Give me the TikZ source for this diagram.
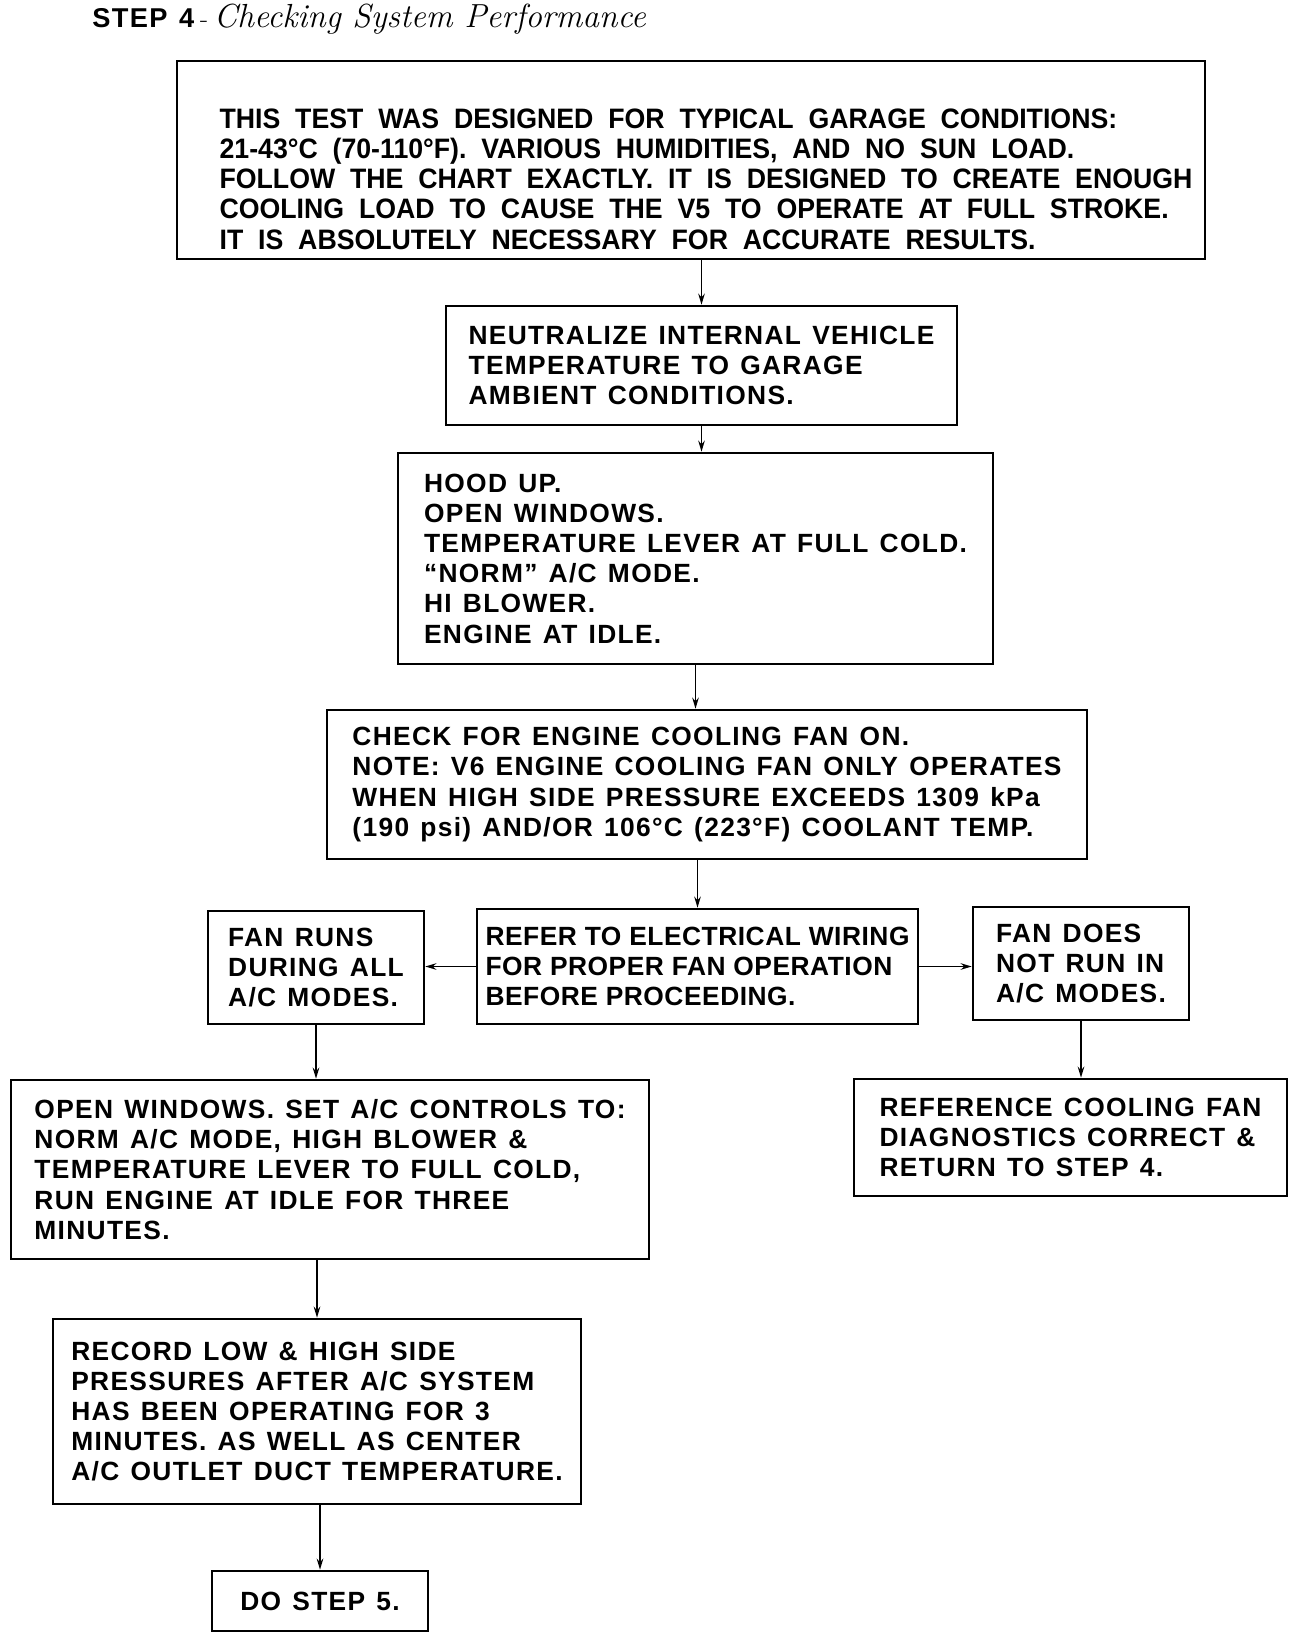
\documentclass[tikz,border=0pt]{standalone}
\usepackage{fontspec}
\usepackage{tikz}
\usetikzlibrary{arrows.meta,positioning,calc}
\newfontfamily\chartfont[LetterSpace=5, WordSpace=1.3]{Liberation Sans}
\newfontfamily\tightfont[LetterSpace=2, WordSpace=1.0]{Liberation Sans}
\newfontfamily\condfont[FakeStretch=0.95, WordSpace=2]{Liberation Sans}

\begin{document}
\begin{tikzpicture}[x=0.02cm, y=-0.02cm,
    stp/.style={draw, line width=1.5pt, align=left, inner sep=0pt,
        font=\chartfont\bfseries\fontsize{15}{17.2}\selectfont},
    txt/.style={align=left, inner sep=0pt, font=\condfont\bfseries\fontsize{16}{17.2}\selectfont},
    arr/.style={-{Stealth[length=0.22cm, width=0.13cm]}, line width=1.1pt}
]
\useasboundingbox (0,0) rectangle (1312,1638);

\node[anchor=base west, inner sep=0pt] (title) at (92,28)
    {{\chartfont\bfseries\fontsize{15.5}{18}\selectfont STEP 4} {\fontsize{15}{18}\selectfont -} {\fontsize{19}{20}\selectfont\itshape Checking System Performance}};

\node[stp, minimum width=20.56cm, minimum height=3.96cm] (intro) at (691,160) {};
\node[txt] (introtxt) at (706,179) {THIS TEST WAS DESIGNED FOR TYPICAL GARAGE CONDITIONS:\\
21-43°C (70-110°F). VARIOUS HUMIDITIES, AND NO SUN LOAD.\\
FOLLOW THE CHART EXACTLY. IT IS DESIGNED TO CREATE ENOUGH\\
COOLING LOAD TO CAUSE THE V5 TO OPERATE AT FULL STROKE.\\
IT IS ABSOLUTELY NECESSARY FOR ACCURATE RESULTS.};

\node[stp, minimum width=10.22cm, minimum height=2.38cm] (neutral) at (701.5,365.5)
    {NEUTRALIZE INTERNAL VEHICLE\\TEMPERATURE TO GARAGE\\AMBIENT CONDITIONS.};
\node[stp, minimum width=11.9cm, minimum height=4.22cm] (setup) at (695.5,558.5)
    {HOOD UP.\\OPEN WINDOWS.\\TEMPERATURE LEVER AT FULL COLD.\\“NORM” A/C MODE.\\HI BLOWER.\\ENGINE AT IDLE.};
\node[stp, minimum width=15.2cm, minimum height=2.98cm] (fancheck) at (707,784.5)
    {CHECK FOR ENGINE COOLING FAN ON.\\NOTE: V6 ENGINE COOLING FAN ONLY OPERATES\\WHEN HIGH SIDE PRESSURE EXCEEDS 1309 kPa\\(190 psi) AND/OR 106°C (223°F) COOLANT TEMP.};

\node[stp, minimum width=4.32cm, minimum height=2.26cm] (fanruns) at (316,967.5)
    {FAN RUNS\\DURING ALL\\A/C MODES.};
\node[stp, minimum width=8.82cm, minimum height=2.30cm, font=\tightfont\bfseries\fontsize{15}{17.2}\selectfont] (wiring) at (697.5,966.5)
    {REFER TO ELECTRICAL WIRING\\FOR PROPER FAN OPERATION\\BEFORE PROCEEDING.};
\node[stp, minimum width=4.32cm, minimum height=2.26cm] (fanoff) at (1081,963.5)
    {FAN DOES\\NOT RUN IN\\A/C MODES.};

\node[stp, minimum width=12.76cm, minimum height=3.58cm] (controls) at (330,1169.5)
    {OPEN WINDOWS. SET A/C CONTROLS TO:\\NORM A/C MODE, HIGH BLOWER \&\\TEMPERATURE LEVER TO FULL COLD,\\RUN ENGINE AT IDLE FOR THREE\\MINUTES.};
\node[stp, minimum width=8.66cm, minimum height=2.34cm] (diag) at (1070.5,1137.5)
    {REFERENCE COOLING FAN\\DIAGNOSTICS CORRECT \&\\RETURN TO STEP 4.};
\node[stp, minimum width=10.56cm, minimum height=3.70cm] (record) at (317,1411.5)
    {RECORD LOW \& HIGH SIDE\\PRESSURES AFTER A/C SYSTEM\\HAS BEEN OPERATING FOR 3\\MINUTES. AS WELL AS CENTER\\A/C OUTLET DUCT TEMPERATURE.};
\node[stp, minimum width=4.32cm, minimum height=1.20cm] (step5) at (320,1601)
    {DO STEP 5.};

\draw[arr] (neutral.north |- intro.south) -- (neutral.north);
\draw[arr] (neutral.south) -- (neutral.south |- setup.north);
\draw[arr] (setup.south) -- (setup.south |- fancheck.north);
\draw[arr] (wiring.north |- fancheck.south) -- (wiring.north);
\draw[arr] (wiring.west) -- (wiring.west -| fanruns.east);
\draw[arr] (wiring.east) -- (wiring.east -| fanoff.west);
\draw[arr] (fanruns.south) -- (fanruns.south |- controls.north);
\draw[arr] (fanoff.south) -- (fanoff.south |- diag.north);
\draw[arr] (record.north |- controls.south) -- (record.north);
\draw[arr] (step5.north |- record.south) -- (step5.north);
\end{tikzpicture}
\end{document}
